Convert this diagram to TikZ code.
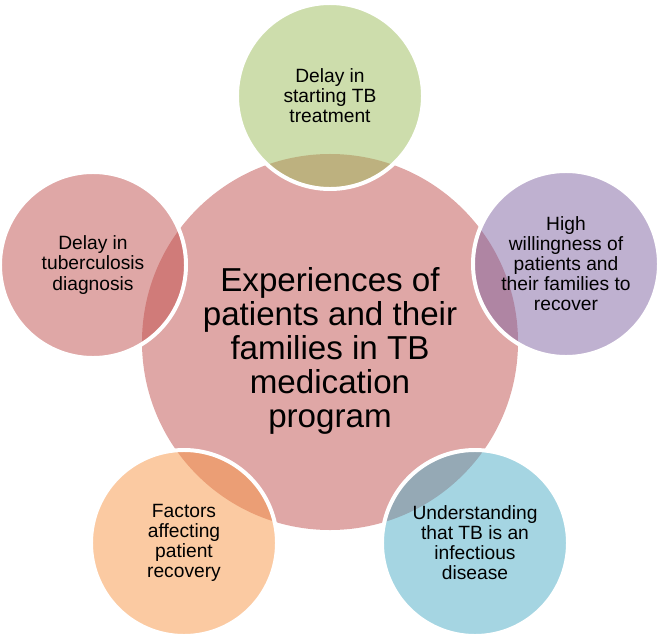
\documentclass[tikz,border=0pt]{standalone}
\usepackage{fontspec}
\setmainfont{Liberation Sans}
\usepackage{tikz}

\definecolor{hubred}{HTML}{C0504D}
\definecolor{leafgreen}{HTML}{9BBB59}
\definecolor{leafpurple}{HTML}{8064A2}
\definecolor{leafblue}{HTML}{4BACC6}
\definecolor{leaforange}{HTML}{F79646}

\begin{document}
\begin{tikzpicture}[x=0.03cm,y=-0.03cm,
    hub/.style={circle, minimum size=11.28cm, inner sep=0pt,
      fill=hubred, fill opacity=.5},
    hubtext/.style={align=center, inner sep=0pt,
      font=\fontsize{28.3}{29.2}\selectfont},
    bubble/.style={circle, minimum size=5.58cm, inner sep=0pt, align=center,
      fill opacity=.5, text opacity=1, draw=white, draw opacity=1,
      line width=3.4pt, font=\fontsize{16.4}{17.1}\selectfont}]
          \useasboundingbox (0,0) rectangle (660,637);

          \node [hub] (M) at (330,342) {};
          \node [hubtext] (Mtext) at (330,351) {Experiences of\\patients and their\\families in TB\\medication\\program};

          \node [bubble, fill=leafgreen] (T) at (330,96) {Delay in\\starting TB\\treatment};
          \node [bubble, fill=leafpurple] (R) at (566,264) {High\\willingness of\\patients and\\their families to\\recover};
          \node [bubble, fill=leafblue] (BR) at (475,543) {Understanding\\that TB is an\\infectious\\disease};
          \node [bubble, fill=leaforange] (BL) at (184,543) {Factors\\affecting\\patient\\recovery};
          \node [bubble, fill=hubred] (L) at (93,265) {Delay in\\tuberculosis\\diagnosis};

      \end{tikzpicture}
\end{document}
